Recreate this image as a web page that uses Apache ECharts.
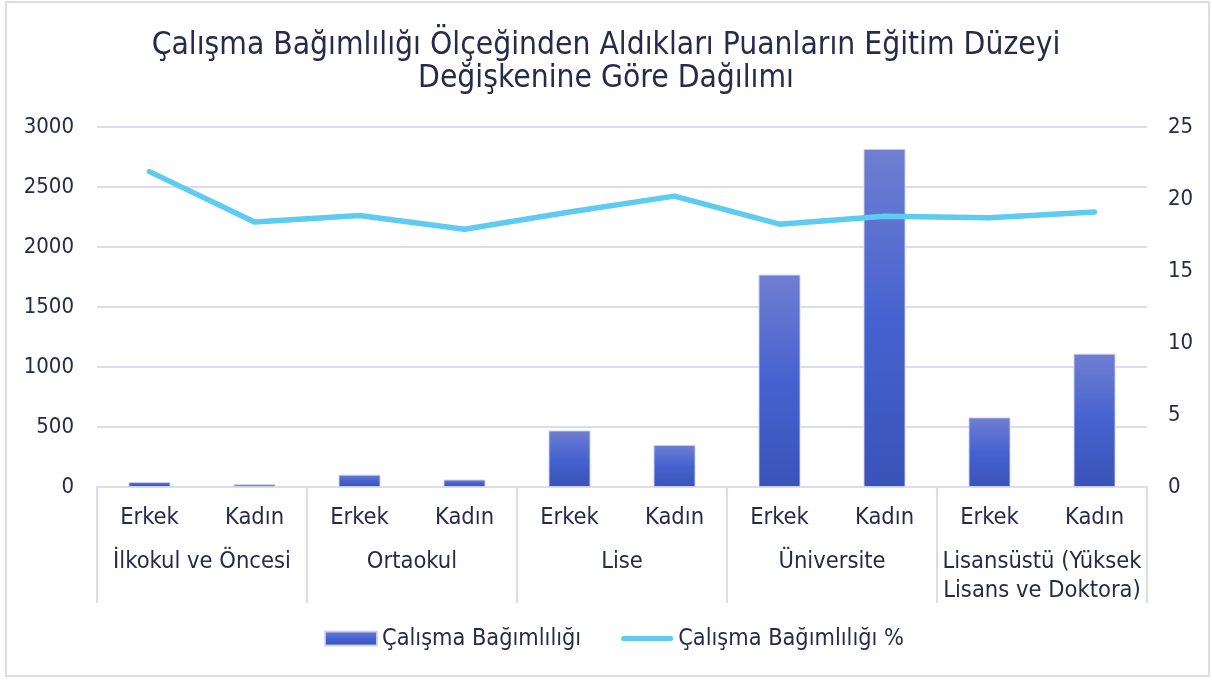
<!DOCTYPE html>
<html>
<head>
<meta charset="utf-8">
<script src="https://cdn.jsdelivr.net/npm/echarts@6/dist/echarts.min.js"></script>
<style>
  html, body { margin: 0; padding: 0; background: #ffffff; }
  #chart { width: 1212px; height: 680px; }
</style>
</head>
<body>
<div id="chart"></div>
<script>
// Education level groups and the gender split inside each group
const groups = ['İlkokul ve Öncesi', 'Ortaokul', 'Lise', 'Üniversite', 'Lisansüstü (Yüksek\nLisans ve Doktora)'];
const categories = ['Erkek', 'Kadın', 'Erkek', 'Kadın', 'Erkek', 'Kadın', 'Erkek', 'Kadın', 'Erkek', 'Kadın'];

// Work addiction scores (count) and percentage share
const scoreCounts = [42, 22, 103, 62, 471, 351, 1770, 2817, 580, 1111];
const scorePercent = [21.9, 18.4, 18.85, 17.9, 19.1, 20.2, 18.25, 18.8, 18.7, 19.1];

// Axis tick settings
const leftTicks = { min: 0, max: 3000, interval: 500 };
const rightTicks = { min: 0, max: 25, interval: 5 };

const titleLines = [
  'Çalışma Bağımlılığı Ölçeğinden Aldıkları Puanların Eğitim Düzeyi',
  'Değişkenine Göre Dağılımı'
];

const FONT = 'DejaVu Sans Condensed';
const TEXT = '#262b4b';
const GRID = '#dcdcea';
const LINE = '#5ecbf1';

const chart = echarts.init(document.getElementById('chart'), null, { renderer: 'canvas' });

const titleStyle = { fontFamily: FONT, fontSize: 31.5, fontWeight: 'normal', color: TEXT };

chart.setOption({
  backgroundColor: '#ffffff',
  animation: false,
  textStyle: { fontFamily: FONT, color: TEXT },
  graphic: [{
    type: 'rect',
    shape: { x: 6, y: 2, width: 1203, height: 674 },
    style: { fill: 'none', stroke: '#dcdde8', lineWidth: 2 },
    silent: true,
    z: -1
  }],
  title: [
    { text: titleLines[0], left: 'center', top: 30, padding: 0, textStyle: titleStyle },
    { text: titleLines[1], left: 'center', top: 63, padding: 0, textStyle: titleStyle }
  ],
  legend: {
    bottom: 25,
    left: 319,
    itemGap: 40,
    itemWidth: 52,
    itemHeight: 14,
    textStyle: { fontFamily: FONT, fontSize: 23.3, color: TEXT },
    data: [
      { name: 'Çalışma Bağımlılığı', icon: 'rect' },
      { name: 'Çalışma Bağımlılığı %', icon: 'path://M2.5,0 L49.5,0 A2.5,2.5 0 0 1 49.5,5 L2.5,5 A2.5,2.5 0 0 1 2.5,0 Z' }
    ]
  },
  grid: { left: 97, right: 65, top: 127, bottom: 193, containLabel: false },
  xAxis: [
    {
      type: 'category',
      data: categories,
      axisLine: { show: true, lineStyle: { color: GRID, width: 2 } },
      axisTick: { show: false },
      axisLabel: { margin: 16, fontSize: 23.5, color: TEXT, fontFamily: FONT, interval: 0, lineHeight: 29 }
    },
    {
      type: 'category',
      position: 'bottom',
      data: groups,
      axisLine: { show: false },
      axisTick: { show: true, length: 116, interval: 0, lineStyle: { color: GRID, width: 2 } },
      axisLabel: { margin: 60, fontSize: 23.5, color: TEXT, fontFamily: FONT, interval: 0, lineHeight: 29 }
    }
  ],
  yAxis: [
    {
      type: 'value',
      min: leftTicks.min, max: leftTicks.max, interval: leftTicks.interval,
      axisLine: { show: false },
      axisTick: { show: false },
      splitLine: { lineStyle: { color: GRID, width: 2 } },
      axisLabel: { margin: 23, fontSize: 22, color: TEXT, fontFamily: FONT, formatter: v => String(v) }
    },
    {
      type: 'value',
      min: rightTicks.min, max: rightTicks.max, interval: rightTicks.interval,
      position: 'right',
      axisLine: { show: false },
      axisTick: { show: false },
      splitLine: { show: false },
      axisLabel: { margin: 21, fontSize: 22, color: TEXT, fontFamily: FONT }
    }
  ],
  series: [
    {
      name: 'Çalışma Bağımlılığı',
      type: 'bar',
      xAxisIndex: 0,
      yAxisIndex: 0,
      barWidth: 42,
      data: scoreCounts,
      itemStyle: {
        borderColor: 'rgba(205,210,240,0.9)',
        borderWidth: 1,
        color: new echarts.graphic.LinearGradient(0, 0, 0, 1, [
          { offset: 0, color: '#6f7fd0' },
          { offset: 0.5, color: '#4762d0' },
          { offset: 1, color: '#3a53b8' }
        ])
      }
    },
    {
      name: 'Çalışma Bağımlılığı %',
      type: 'line',
      xAxisIndex: 0,
      yAxisIndex: 1,
      data: scorePercent,
      symbol: 'none',
      lineStyle: { color: LINE, width: 5.5, cap: 'round', join: 'round' },
      itemStyle: { color: LINE }
    }
  ]
});
</script>
</body>
</html>
